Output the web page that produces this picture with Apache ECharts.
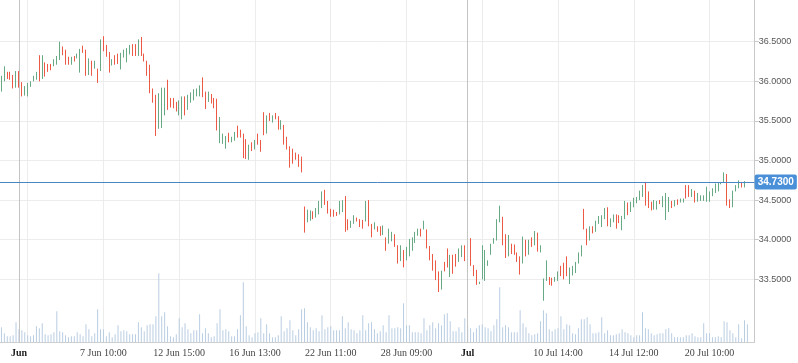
<!DOCTYPE html>
<html><head><meta charset="utf-8">
<script src="https://cdn.jsdelivr.net/npm/echarts@6/dist/echarts.min.js"></script>
<style>html,body{margin:0;padding:0;background:#fff}#c{width:798px;height:363px}</style>
</head><body><div id="c"></div>
<script>
// Bar highs / lows (price), direction u = up (green), d = down (red)
const highs = [
36.07,36.19,36.12,36.12,36.08,36.13,36.13,35.99,35.94,35.98,
36.00,36.07,36.12,36.33,36.33,36.24,36.22,36.22,36.28,36.32,
36.50,36.44,36.40,36.31,36.31,36.32,36.35,36.41,36.45,36.40,
36.29,36.26,36.26,36.16,36.53,36.57,36.46,36.37,36.28,36.33,
36.35,36.36,36.40,36.42,36.46,36.47,36.47,36.53,36.56,36.35,
36.26,36.21,35.91,35.83,35.85,35.92,35.92,36.02,35.79,35.79,
35.74,35.76,35.81,35.81,35.83,35.86,35.90,35.91,35.95,36.05,
35.87,35.87,35.84,35.79,35.78,35.55,35.34,35.31,35.35,35.30,
35.36,35.44,35.39,35.34,35.27,35.20,35.23,35.26,35.34,35.26,
35.61,35.57,35.60,35.57,35.60,35.56,35.51,35.45,35.30,35.18,
35.15,35.10,35.08,35.05,34.42,34.38,34.37,34.36,34.40,34.49,
34.61,34.63,34.49,34.39,34.38,34.35,34.49,34.50,34.55,34.26,
34.24,34.31,34.28,34.26,34.25,34.49,34.50,34.20,34.22,34.17,
34.17,34.18,34.03,34.14,34.10,34.07,33.93,33.93,33.87,33.91,
34.01,34.03,34.10,34.14,34.14,34.24,34.13,33.92,33.82,33.74,
33.60,33.61,33.72,33.89,33.81,33.81,33.82,33.89,33.93,33.93,
34.02,34.02,33.68,33.62,33.47,33.93,33.87,33.74,33.95,34.02,
34.26,34.43,34.29,34.07,34.06,33.95,33.94,33.84,33.79,34.04,
34.00,34.00,34.03,34.11,34.09,33.93,33.51,33.74,33.53,33.52,
33.53,33.60,33.67,33.71,33.79,33.65,33.67,33.72,33.84,33.93,
34.39,34.14,34.17,34.17,34.24,34.30,34.31,34.40,34.41,34.27,
34.32,34.32,34.31,34.30,34.49,34.47,34.48,34.53,34.54,34.62,
34.69,34.73,34.61,34.48,34.50,34.49,34.50,34.55,34.59,34.54,
34.49,34.50,34.51,34.52,34.52,34.69,34.69,34.64,34.62,34.59,
34.56,34.56,34.67,34.61,34.65,34.71,34.72,34.73,34.85,34.83,
34.51,34.62,34.69,34.75,34.73,34.74,34.73];
const lows = [
35.87,36.00,36.03,36.02,35.91,35.92,35.92,35.81,35.82,35.81,
35.93,36.00,36.02,36.00,36.03,36.06,36.12,36.14,36.19,36.21,
36.27,36.33,36.21,36.21,36.21,36.25,36.29,36.11,36.36,36.07,
36.08,36.07,36.16,35.98,36.13,36.38,36.31,36.11,36.20,36.21,
36.22,36.15,36.30,36.24,36.34,36.32,36.32,36.32,36.32,36.25,
36.07,35.85,35.73,35.31,35.40,35.41,35.57,35.64,35.67,35.66,
35.62,35.57,35.52,35.57,35.64,35.73,35.76,35.81,35.81,35.80,
35.65,35.74,35.72,35.66,35.38,35.22,35.21,35.15,35.23,35.23,
35.25,35.29,35.29,35.03,35.02,35.01,35.12,35.14,35.20,35.11,
35.32,35.34,35.50,35.48,35.52,35.39,35.39,35.20,35.14,34.91,
34.96,35.01,34.92,34.85,34.09,34.22,34.24,34.26,34.28,34.32,
34.40,34.44,34.33,34.29,34.29,34.30,34.32,34.35,34.10,34.12,
34.15,34.20,34.23,34.16,34.14,34.23,34.17,34.03,34.13,34.10,
34.05,34.06,33.86,33.95,33.98,33.91,33.70,33.73,33.65,33.74,
33.79,33.86,33.96,34.05,34.04,34.13,33.89,33.74,33.61,33.49,
33.34,33.37,33.60,33.65,33.53,33.57,33.66,33.72,33.78,33.73,
33.47,33.67,33.54,33.43,33.44,33.50,33.48,33.67,33.81,33.95,
33.99,34.22,33.93,33.77,33.79,33.82,33.81,33.72,33.56,33.70,
33.79,33.81,33.91,33.93,33.85,33.84,33.23,33.48,33.43,33.42,
33.47,33.48,33.54,33.50,33.54,33.44,33.55,33.58,33.70,33.79,
34.13,33.93,33.99,34.08,34.10,34.20,34.16,34.26,34.17,34.16,
34.22,34.14,34.21,34.12,34.26,34.31,34.35,34.41,34.46,34.50,
34.54,34.43,34.40,34.37,34.38,34.38,34.45,34.41,34.25,34.35,
34.40,34.42,34.44,34.47,34.47,34.52,34.54,34.54,34.47,34.48,
34.49,34.49,34.48,34.48,34.55,34.59,34.61,34.70,34.72,34.43,
34.40,34.41,34.61,34.65,34.66,34.66,34.72];
const directions =
'uudddudduu' + 'uuududdduu' + 'uddduduudd' + 'udududddud' +
'duuuuddudd' + 'dddduuuddd' + 'duuduuuuud' + 'duddduuudu' + 'uddddududd' +
'dududduddd' + 'ddddduuduu' + 'uddddduudd' + 'uuddduddud' + 'duduuddudu' +
'uuuududddd' + 'duddudduud' + 'uddduuuuuu' + 'uudduddddu' + 'dududuuudd' +
'uuddduuuuu' + 'dduduuuudu' + 'udduuduuuu' + 'uddduuduuu' + 'duduuddudu' +
'uuuuuuuuud' + 'duuudud';
const volumes = [
15,9,6,6,7,20,13,12,10,7, 6,7,16,14,19,8,7,8,10,31, 11,10,7,5,6,6,10,8,6,18,
13,6,9,33,13,13,6,10,5,8, 17,11,12,11,8,8,8,20,15,11, 17,18,18,26,69,26,30,16,6,5,
8,24,15,19,13,9,12,12,28,9, 14,9,5,6,19,33,12,13,11,6, 6,13,27,60,16,7,5,9,10,24,
9,18,9,5,5,7,26,11,14,22, 12,7,13,33,34,20,15,12,14,11, 27,13,15,16,12,12,12,26,14,20,
13,12,9,12,27,12,19,20,13,9, 11,17,10,27,14,14,15,
14,39,17,17,10,10,10,9,24,12, 17,20,14,19,17,28,29,21,11,11, 15,10,24,16,14,10,14,17,18,
15,14,11,17,23,55,15,17,15,10, 10,10,32,19,15,9,7,8,9,21, 32,29,13,11,13,14,26,13,18,17,
9,8,14,23,23,25,18,9,9,10, 25,9,12,7,7,8,9,13,10,9, 7,5,7,7,30,14,13,9,7,8,
9,9,13,14,9,5,5,5,5, 7,7,9,6,5,5,19,9,9,5, 5,6,5,21,20,12,9,5,18,4, 22,18];
const lastPrice = 34.73;
const priceTicks = [33.5, 34.0, 34.5, 35.0, 35.5, 36.0, 36.5];
const tickLabelIndex = [6, 35, 61, 87, 113, 139, 160, 191, 217, 243];
const tickLabels = ['Jun', '7 Jun 10:00', '12 Jun 15:00', '16 Jun 13:00', '22 Jun 11:00',
                    '28 Jun 09:00', 'Jul', '10 Jul 14:00', '14 Jul 12:00', '20 Jul 10:00'];
const monthTicks = ['Jun', 'Jul'];
const gridLineFirst = 9, gridLineEvery = 26;
const monthLineIndex = [6, 160];
const categories = highs.map((_, i) => 'bar ' + i).concat(['pad 1', 'pad 2']);

const UP = '#67a985', DOWN = '#ec5a46';
const candles = highs.map((h, i) => directions[i] === 'u'
  ? [lows[i], h, lows[i], h] : [h, lows[i], lows[i], h]);
const labelMap = new Map(tickLabelIndex.map((idx, k) => [idx, tickLabels[k]]));

const chart = echarts.init(document.getElementById('c'), null, {renderer: 'canvas'});
chart.setOption({
  animation: false,
  grid: {left: -1.76, right: 43.3, top: 0, bottom: 20.7, containLabel: false},
  xAxis: {
    type: 'category', data: categories, boundaryGap: true,
    axisLine: {lineStyle: {color: '#cfcfcf'}},
    axisTick: {show: false},
    axisLabel: {
      interval: (i) => labelMap.has(i),
      formatter: (v, i) => {
        const t = labelMap.get(i) || '';
        return monthTicks.includes(t) ? '{m|' + t + '}' : t;
      },
      fontFamily: 'Liberation Serif', fontSize: 10, color: '#444', margin: 6,
      rich: {m: {fontFamily: 'Liberation Serif', fontSize: 10, fontWeight: 'bold', color: '#222'}}
    },
    splitLine: {
      show: true, alignWithLabel: true,
      interval: (i) => i >= gridLineFirst && (i - gridLineFirst) % gridLineEvery === 0,
      lineStyle: {color: '#ececec', width: 1}
    }
  },
  yAxis: [{
    type: 'value', position: 'right', min: 32.705, max: 37.027,
    axisLine: {show: true, lineStyle: {color: '#c8c8c8'}},
    axisTick: {show: true, length: 4, customValues: priceTicks, lineStyle: {color: '#c8c8c8'}},
    axisLabel: {customValues: priceTicks, formatter: (v) => v.toFixed(4),
      fontFamily: 'Liberation Sans', fontSize: 9, color: '#555', margin: 4},
    splitLine: {show: true, lineStyle: {color: '#ececec', width: 1}}
  }, {
    type: 'value', show: false, min: 0, max: 342,
    splitLine: {show: false}
  }],
  series: [{
    type: 'bar', name: 'Volume', yAxisIndex: 1, data: volumes,
    barWidth: 1, itemStyle: {color: '#b9cde2'}, z: 1, silent: true,
    markLine: {
      symbol: 'none', silent: true, label: {show: false},
      lineStyle: {color: '#c4c4c4', width: 1, type: 'solid'},
      data: monthLineIndex.map((i) => ({xAxis: i}))
    }
  }, {
    type: 'candlestick', name: 'Price', data: candles,
    barWidth: 0.6, z: 3,
    itemStyle: {color: UP, color0: DOWN, borderColor: UP, borderColor0: DOWN, borderWidth: 1},
    markLine: {
      symbol: 'none', silent: true,
      lineStyle: {color: '#4a86c6', width: 1, type: 'solid'},
      label: {position: 'end', distance: 0, formatter: lastPrice.toFixed(4),
        backgroundColor: '#4a90d9', color: '#fff', fontWeight: 'bold', fontSize: 10,
        fontFamily: 'Liberation Sans', padding: [3, 3, 2, 3], borderRadius: 2},
      data: [{yAxis: lastPrice}]
    }
  }]
});
</script></body></html>
